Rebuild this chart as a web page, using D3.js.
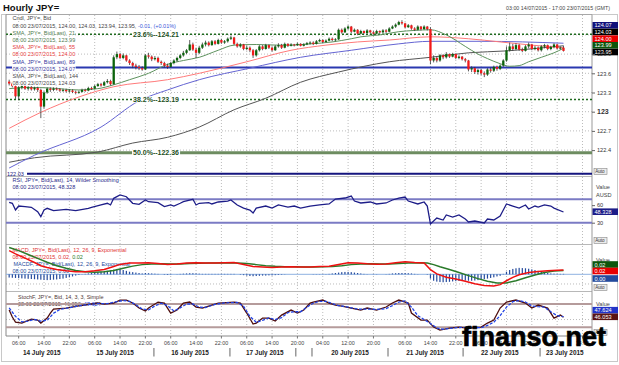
<!DOCTYPE html>
<html><head><meta charset="utf-8">
<script src="https://cdn.jsdelivr.net/npm/d3@7/dist/d3.min.js"></script>
<style>html,body{margin:0;padding:0;background:#fff;overflow:hidden}svg{display:block}text{white-space:pre}</style>
</head><body>
<svg id="chart" width="619" height="365"></svg>
<script>
// ---------------- DATA ----------------
const firstOpen = 123.47;
const closes = [123.44,123.40,123.24,123.38,123.40,123.36,123.38,123.35,123.37,123.34,
 123.08,123.30,123.36,123.34,123.36,123.35,123.33,123.34,123.32,123.33,
 123.31,123.30,123.31,123.34,123.33,123.37,123.36,123.40,123.43,123.41,
 123.46,123.48,123.43,123.85,123.90,123.84,123.88,123.80,123.76,123.72,
 123.70,123.68,123.66,123.88,123.86,123.82,123.84,123.78,123.76,123.72,
 123.70,123.76,123.80,123.84,123.88,123.92,123.96,124.05,123.97,123.92,
 124.00,124.05,124.08,124.04,124.10,124.06,124.12,124.08,124.10,124.14,
 124.16,124.06,124.02,124.05,123.98,124.00,123.96,123.88,123.96,124.02,
 123.98,124.04,124.00,123.96,124.02,124.04,124.00,124.06,124.03,124.05,
 124.04,124.06,124.03,124.05,124.07,124.08,124.06,124.10,124.12,124.09,
 124.11,124.14,124.12,124.13,124.28,124.24,124.30,124.33,124.25,124.28,
 124.22,124.26,124.23,124.27,124.24,124.22,124.26,124.24,124.27,124.25,
 124.30,124.33,124.36,124.40,124.38,124.32,124.35,124.30,124.28,124.33,
 124.29,124.33,124.29,123.80,123.84,123.80,123.88,123.85,123.90,123.86,
 123.90,123.84,123.86,123.82,123.80,123.66,123.68,123.62,123.65,123.60,
 123.58,123.66,123.64,123.70,123.67,123.72,123.80,123.96,124.02,123.98,
 124.04,123.97,123.95,124.02,124.05,123.98,124.00,123.96,124.02,124.04,
 123.98,124.01,124.05,123.99,124.00,123.95];
const highs = [123.50,123.46,123.42,123.40,123.43,123.42,123.40,123.40,123.39,123.39,
 123.36,123.32,123.38,123.38,123.38,123.38,123.37,123.36,123.36,123.35,
 123.35,123.33,123.33,123.36,123.36,123.39,123.39,123.42,123.45,123.45,
 123.48,123.51,123.50,123.88,123.94,123.92,123.91,123.89,123.82,123.78,
 123.75,123.73,123.71,123.90,123.92,123.88,123.87,123.86,123.80,123.78,
 123.75,123.78,123.82,123.86,123.90,123.95,123.98,124.12,124.08,124.00,
 124.03,124.08,124.11,124.10,124.12,124.12,124.14,124.14,124.12,124.16,
 124.19,124.17,124.08,124.07,124.06,124.03,124.02,123.98,123.98,124.04,
 124.04,124.06,124.05,124.02,124.04,124.07,124.06,124.08,124.07,124.07,
 124.06,124.08,124.07,124.07,124.09,124.10,124.10,124.12,124.14,124.13,
 124.13,124.16,124.16,124.15,124.30,124.30,124.32,124.35,124.34,124.30,
 124.29,124.28,124.27,124.29,124.28,124.26,124.28,124.27,124.29,124.29,
 124.32,124.35,124.38,124.42,124.43,124.39,124.37,124.36,124.32,124.35,
 124.34,124.35,124.34,124.32,123.88,123.86,123.90,123.90,123.93,123.91,
 123.92,123.91,123.88,123.87,123.84,123.81,123.71,123.70,123.67,123.67,
 123.63,123.68,123.69,123.72,123.72,123.74,123.82,124.02,124.08,124.06,
 124.07,124.06,124.00,124.04,124.08,124.06,124.03,124.02,124.04,124.06,
 124.05,124.03,124.07,124.06,124.02,124.03];
const lows = [123.41,123.38,123.20,123.18,123.35,123.34,123.33,123.33,123.33,123.31,
 122.90,123.05,123.28,123.31,123.32,123.33,123.31,123.31,123.30,123.30,
 123.29,123.27,123.28,123.30,123.31,123.32,123.34,123.35,123.39,123.39,
 123.40,123.44,123.41,123.42,123.82,123.82,123.82,123.78,123.73,123.68,
 123.66,123.65,123.64,123.65,123.83,123.79,123.80,123.76,123.73,123.69,
 123.67,123.69,123.74,123.78,123.82,123.86,123.90,123.95,123.95,123.84,
 123.90,123.98,124.02,124.02,124.03,124.04,124.05,124.06,124.06,124.08,
 124.12,124.04,124.00,124.00,123.96,123.96,123.93,123.84,123.86,123.94,
 123.96,123.97,123.98,123.94,123.95,124.00,123.98,123.99,124.01,124.02,
 124.02,124.03,124.02,124.02,124.04,124.05,124.04,124.05,124.09,124.07,
 124.08,124.10,124.10,124.10,124.12,124.22,124.23,124.28,124.23,124.24,
 124.20,124.21,124.21,124.22,124.22,124.20,124.21,124.22,124.23,124.23,
 124.24,124.29,124.31,124.35,124.36,124.30,124.31,124.28,124.26,124.27,
 124.27,124.28,124.27,123.74,123.77,123.77,123.78,123.82,123.83,123.84,
 123.85,123.82,123.82,123.80,123.77,123.63,123.62,123.59,123.58,123.57,
 123.54,123.56,123.61,123.62,123.64,123.65,123.70,123.78,123.94,123.95,
 123.96,123.95,123.93,123.94,123.99,123.96,123.96,123.94,123.94,123.99,
 123.96,123.96,123.99,123.97,123.97,123.94];

const sma21Slots = [0,6,13,22,28,33,38,44,50,55,60,66,71,78,85,89,95,102,108,111,117,123,128,133,138,144,148,151,155,158,161,164,168,172,175];
const sma21Vals = [123.36,123.38,123.37,123.34,123.36,123.42,123.50,123.60,123.74,123.80,123.85,123.96,124.04,124.05,124.04,124.04,124.06,124.09,124.14,124.17,124.20,124.25,124.27,124.28,124.20,124.02,123.90,123.83,123.75,123.71,123.72,123.78,123.85,123.92,123.99];
const sma55Slots = [0,10,22,33,50,60,75,89,100,110,120,133,145,155,165,175];
const sma55Vals = [122.74,122.99,123.23,123.39,123.50,123.60,123.78,123.96,124.04,124.09,124.12,124.17,124.14,124.09,124.04,124.00];
const sma89Slots = [0,8,29,41,50,60,76,92,108,123,133,149,175];
const sma89Vals = [122.12,122.32,122.76,123.17,123.34,123.50,123.68,123.85,123.96,124.06,124.10,124.10,124.07];
const sma144Slots = [0,8,28,39,50,60,71,81,92,104,120,133,145,157,175];
const sma144Vals = [122.21,122.28,122.37,122.51,122.60,122.76,123.03,123.21,123.46,123.62,123.78,123.85,123.92,123.95,124.03];

const fibLevels = [124.21, 123.19, 122.36];
const fibLabels = ["23.6%--124.21", "38.2%--123.19", "50.0%--122.36"];
const supportLevel = 123.69;
const baseLevel = 122.03;

const rsiSlots = [0,1,2,3,5,7,9,10,11,12,14,18,21,25,26,29,31,32,33,35,37,39,41,43,44,47,49,51,52,54,55,58,59,60,63,64,66,69,70,72,74,76,77,78,81,83,85,88,90,92,95,98,101,103,106,108,109,111,114,116,119,121,123,125,126,129,131,132,133,135,137,138,140,142,144,145,147,150,151,153,155,156,157,159,161,163,164,166,167,169,171,172,175];
const rsiVals = [64.9,63.2,51.7,58.5,57.4,56.3,48.8,40.3,51.7,54.6,50.5,52.9,50.5,54.6,56.3,60.3,63.2,60.3,71.7,77.4,74.4,63.2,61.5,68.8,65.9,64.2,57.4,60.3,58.5,63.2,65.9,70.0,60.3,63.2,64.2,62,65.4,67,68.8,60.3,55,51.7,46.6,55,58.5,55,60.3,56.8,58.5,55,58.5,60.3,62,70.5,72.2,75.6,67,63.7,65.4,62,63.7,68.8,72.2,73.9,67,62,65.4,58.5,27.8,38,34.6,43.2,39.7,43.2,36.3,31.2,32.9,29.5,36.3,34.6,41.5,51.7,62,58.5,55,60.3,53.4,58.5,56.8,60.3,58.5,55,48.33];
const rsiLevels = [70, 30];

const macdSlots = [0,2,5,8,10,12,15,18,21,24,27,30,33,35,38,41,44,47,50,53,56,59,62,65,68,71,74,77,80,83,86,89,92,95,98,101,104,107,110,113,116,119,122,125,128,131,133,135,138,141,144,147,150,153,155,157,159,161,164,167,170,173,175];
const macdVals = [0.110,0.095,0.075,0.055,0.040,0.032,0.022,0.016,0.012,0.012,0.016,0.022,0.036,0.046,0.052,0.052,0.054,0.050,0.046,0.048,0.052,0.054,0.052,0.053,0.054,0.055,0.046,0.036,0.034,0.032,0.034,0.035,0.034,0.034,0.036,0.037,0.046,0.054,0.053,0.049,0.047,0.048,0.054,0.058,0.055,0.053,0.022,0.002,-0.014,-0.022,-0.032,-0.044,-0.052,-0.054,-0.048,-0.030,-0.014,-0.002,0.008,0.013,0.017,0.019,0.020];
const signalSlots = [0,3,6,9,12,15,18,21,24,27,30,33,36,39,42,45,48,51,54,57,60,63,66,69,72,75,78,81,84,87,90,93,96,99,102,105,108,111,114,117,120,123,126,129,132,134,136,139,142,145,148,151,154,157,160,163,166,169,172,175];
const signalVals = [0.125,0.110,0.092,0.074,0.056,0.040,0.028,0.018,0.012,0.010,0.012,0.018,0.028,0.038,0.045,0.048,0.049,0.048,0.048,0.050,0.051,0.052,0.052,0.053,0.053,0.050,0.045,0.040,0.037,0.035,0.035,0.034,0.034,0.035,0.036,0.040,0.045,0.048,0.049,0.048,0.048,0.050,0.053,0.054,0.053,0.045,0.035,0.022,0.008,-0.006,-0.020,-0.032,-0.040,-0.040,-0.030,-0.016,-0.003,0.008,0.015,0.018];
const histVals = [-0.015,-0.016,-0.017,-0.018,-0.019,-0.020,-0.021,-0.022,-0.023,-0.024,
 -0.025,-0.026,-0.027,-0.026,-0.025,-0.024,-0.022,-0.020,-0.017,-0.014,
 -0.010,-0.006,-0.003,-0.001,0.002,0.004,0.006,0.008,0.010,0.012,
 0.014,0.016,0.018,0.022,0.025,0.024,0.020,0.016,0.012,0.010,
 0.008,0.006,0.004,0.006,0.005,0.004,0.003,0.002,0.000,-0.002,
 -0.003,-0.002,0.000,0.001,0.002,0.003,0.004,0.005,0.005,0.004,
 0.003,0.002,0.002,0.002,0.002,0.002,0.002,0.002,0.002,0.002,
 0.002,0.002,0.000,-0.002,-0.004,-0.006,-0.008,-0.009,-0.008,-0.007,
 -0.006,-0.006,-0.005,-0.005,-0.004,-0.003,-0.002,-0.001,0.000,0.000,
 0.000,0.000,0.000,0.000,0.000,0.000,0.001,0.001,0.001,0.001,
 0.001,0.002,0.004,0.006,0.008,0.010,0.011,0.011,0.010,0.008,
 0.006,0.004,0.002,0.001,0.000,-0.001,-0.001,0.000,0.000,0.001,
 0.002,0.004,0.005,0.006,0.006,0.006,0.005,0.004,0.002,0.001,
 0.000,0.000,-0.002,-0.020,-0.030,-0.034,-0.036,-0.037,-0.036,-0.035,
 -0.033,-0.032,-0.031,-0.030,-0.029,-0.030,-0.030,-0.029,-0.027,-0.024,
 -0.022,-0.020,-0.017,-0.014,-0.010,-0.007,0.002,0.012,0.020,0.025,
 0.028,0.030,0.029,0.028,0.026,0.023,0.020,0.016,0.012,0.009,
 0.006,0.004,0.003,0.002,0.002,0.002];

const kSlots = [0,1,2,4,7,9,10,12,13,14,18,22,26,28,30,33,35,37,39,41,43,44,47,49,50,51,53,55,57,59,61,64,66,71,73,75,77,78,80,82,84,86,89,91,93,95,96,99,101,103,105,108,111,113,116,119,121,123,126,127,130,132,134,136,139,142,145,149,151,153,155,157,160,163,165,167,170,172,174,175];
const kVals = [64.4,46.4,33.5,30.9,41.2,38.7,30.9,43.8,56.7,67,69.6,75,80,82.5,79.9,82.5,90.2,90.2,82.5,69.6,61.9,69.6,85,82.5,69.6,56.7,64.4,82.5,85,72.2,69.6,77.3,82.5,85,82.5,56.7,28.4,30.9,43.8,43.8,36.1,51.5,64.4,56.7,64.4,82.5,85,90.2,82.5,77.3,74.7,69.6,64.4,69.6,64.4,72.2,82.5,90.2,82.5,56.7,38.7,38.7,20.6,12.9,18,20.6,18,20.6,30.9,38.7,69.6,85,90.2,82.5,69.6,77.3,69.6,43.8,51.5,46.05];
const dSlots = [0,2,4,6,8,10,12,14,16,20,24,28,31,34,36,38,40,42,44,46,48,50,52,54,56,58,60,62,65,68,72,74,76,78,80,82,84,86,88,90,92,94,96,98,100,102,104,107,110,113,116,119,121,123,125,127,129,131,133,135,137,140,143,146,149,151,153,155,157,159,161,163,165,167,169,171,173,175];
const dVals = [70,48,34,36,40,36,38,56,66,72,78,81,81,86,89,87,78,67,65,75,82,76,62,70,80,80,72,71,79,83,84,74,48,33,38,44,40,45,58,60,60,72,82,87,87,81,76,72,67,67,66,68,76,85,88,72,50,40,30,18,15,18,20,19,19,25,33,50,72,86,89,85,75,73,72,60,50,47.62];
const stochLevels = [80, 20];

const priceTicks = [122.4,122.7,123,123.3,123.6,123.9];
const gridPrices = [122.4,122.7,123,123.3,123.6,123.9,124.2];
const timeTickSlots = [3,11,19,27,35,43,51,59,67,75,83,91,99,107,115,125,133,141,149,157,165,173,181];
const timeTickLabels = ["06:00","14:00","22:00","06:00","14:00","22:00","06:00","14:00","22:00","06:00","14:00","20:00","04:00","12:00","20:00","06:00","14:00","22:00","06:00","14:00","22:00","06:00","14:00"];
const dateLabels = ["14 July 2015","15 July 2015","16 July 2015","17 July 2015","20 July 2015","21 July 2015","22 July 2015","23 July 2015"];
const dateCenters = [10.3,33.4,57.1,80.7,107.6,131.3,154.9,175.4];
const daySeparators = [45.7,69.7,90.5,95.6,119.6,143.3,167.6];

// ---------------- DRAW ----------------
const svg = d3.select('#chart').attr('font-family','Arial, "Liberation Sans", Helvetica, sans-serif');
const plotL = 6, plotR = 592;
const x = d3.scaleLinear().domain([-1,184]).range([plotL,plotR]);
const yP = d3.scaleLinear().domain([122.4,123.6]).range([150.1,73.3]);
const yR = d3.scaleLinear().domain([30,70]).range([222.7,199.3]);
const yM = d3.scaleLinear().domain([0,0.02]).range([274.3,270]);
const yS = d3.scaleLinear().domain([20,80]).range([327.3,304]);
const panels = [[15,176.5],[176.5,244.5],[244.5,291.5],[291.5,336]];

const defs = svg.append('defs');
panels.forEach((p,i)=>defs.append('clipPath').attr('id','clip'+i).append('rect')
  .attr('x',plotL).attr('y',p[0]).attr('width',plotR-plotL).attr('height',p[1]-p[0]));

// frame
svg.append('rect').attr('x',1.5).attr('y',14.5).attr('width',616).attr('height',347).attr('fill','none').attr('stroke','#c8c8c8');
svg.append('text').attr('x',3).attr('y',11).attr('font-size',9.5).attr('font-weight','bold').attr('fill','#111').text('Hourly JPY=');
svg.append('text').attr('x',610).attr('y',10).attr('text-anchor','end').attr('font-size',5.3).attr('fill','#444')
  .text('03:00 14/07/2015 - 17:00 23/07/2015 (GMT)');

// grids
const grid = svg.append('g').attr('stroke','#bcbcbc').attr('stroke-dasharray','1,2').attr('stroke-width',1);
grid.selectAll('line.v').data(timeTickSlots).join('line').attr('class','v')
  .attr('x1',d=>x(d)).attr('x2',d=>x(d)).attr('y1',15).attr('y2',336);
grid.selectAll('line.h').data(gridPrices).join('line').attr('class','h')
  .attr('x1',plotL).attr('x2',plotR).attr('y1',d=>yP(d)).attr('y2',d=>yP(d));
grid.append('line').attr('x1',plotL).attr('x2',plotR).attr('y1',yM(-0.045)).attr('y2',yM(-0.045));
grid.append('line').attr('x1',plotL).attr('x2',plotR).attr('y1',yS(40)).attr('y2',yS(40));

// panel separators
[176.5,244.5,291.5].forEach(y=>svg.append('line').attr('x1',plotL).attr('x2',plotR).attr('y1',y).attr('y2',y).attr('stroke','#b8b8b8'));
svg.append('line').attr('x1',plotL).attr('x2',plotR).attr('y1',14.5).attr('y2',14.5).attr('stroke','#a8a8a8');
svg.append('line').attr('x1',plotL).attr('x2',plotL).attr('y1',14.5).attr('y2',336).attr('stroke','#888');
svg.append('line').attr('x1',plotR).attr('x2',plotR).attr('y1',14.5).attr('y2',336).attr('stroke','#999');
svg.append('line').attr('x1',plotL).attr('x2',plotR).attr('y1',336).attr('y2',336).attr('stroke','#888');

// ---- main panel
const main = svg.append('g').attr('clip-path','url(#clip0)');
// fib lines
main.append('line').attr('x1',plotL).attr('x2',plotR).attr('y1',yP(fibLevels[0])).attr('y2',yP(fibLevels[0]))
  .attr('stroke','#1f6a1f').attr('stroke-width',1.6).attr('stroke-dasharray','2,2');
main.append('line').attr('x1',plotL).attr('x2',plotR).attr('y1',yP(fibLevels[1])).attr('y2',yP(fibLevels[1]))
  .attr('stroke','#1f6a1f').attr('stroke-width',1.6).attr('stroke-dasharray','2,2');
main.append('line').attr('x1',plotL).attr('x2',plotR).attr('y1',yP(fibLevels[2])).attr('y2',yP(fibLevels[2]))
  .attr('stroke','#6d8c60').attr('stroke-width',3);
main.append('line').attr('x1',plotL).attr('x2',plotR).attr('y1',yP(supportLevel)).attr('y2',yP(supportLevel))
  .attr('stroke','#2a38b0').attr('stroke-width',2);
main.append('line').attr('x1',27).attr('x2',plotR).attr('y1',yP(baseLevel)).attr('y2',yP(baseLevel))
  .attr('stroke','#14147e').attr('stroke-width',2);

const lineP = d3.line().x(d=>x(d[0])).y(d=>yP(d[1])).curve(d3.curveMonotoneX);
const smaDefs = [[sma144Slots,sma144Vals,'#555555'],[sma89Slots,sma89Vals,'#6464d2'],[sma55Slots,sma55Vals,'#ff7a7a'],[sma21Slots,sma21Vals,'#5e925e']];
smaDefs.forEach(([s,v,c])=>main.append('path').attr('d',lineP(s.map((d,i)=>[d,v[i]]))).attr('fill','none').attr('stroke',c).attr('stroke-width',1));

const candles = closes.map((c,i)=>({i, o: i ? closes[i-1] : firstOpen, c, h: highs[i], l: lows[i]}));
main.append('g').selectAll('line').data(candles).join('line')
  .attr('x1',d=>x(d.i)).attr('x2',d=>x(d.i))
  .attr('y1',d=>yP(Math.max(d.h,d.o,d.c))).attr('y2',d=>yP(Math.min(d.l,d.o,d.c)))
  .attr('stroke','#333').attr('stroke-width',0.8);
main.append('g').selectAll('rect').data(candles).join('rect')
  .attr('x',d=>x(d.i)-1.15).attr('width',2.3)
  .attr('y',d=>yP(Math.max(d.o,d.c))).attr('height',d=>Math.max(0.9,Math.abs(yP(d.o)-yP(d.c))))
  .attr('fill',d=>d.c>=d.o?'#0b640b':'#f21a1a');

function labelBg(g, t, pad){
  const bb = t.node().getBBox();
  g.insert('rect',()=>t.node()).attr('x',bb.x-pad).attr('y',bb.y+0.4).attr('width',bb.width+2*pad).attr('height',bb.height-0.8).attr('fill','#fff');
}
const fibG = svg.append('g');
fibLevels.forEach((lv,i)=>{
  const t = fibG.append('text').attr('x',156).attr('y',yP(lv)+2.5).attr('text-anchor','middle')
    .attr('font-size',7).attr('font-weight','bold').attr('fill','#1d4f1d').text(fibLabels[i]);
  labelBg(fibG,t,1);
});

function legend(g, x0, y0, parts){
  const t = g.append('text').attr('x',x0).attr('y',y0).attr('font-size',5.5);
  parts.forEach(([s,c])=>t.append('tspan').attr('fill',c).text(s));
  labelBg(g,t,0.5);
}
const lg = svg.append('g');
const mainLegend = [
  [['Cndl, JPY=, Bid','#444']],
  [['08:00 23/07/2015, 124.00, 124.03, 123.94, 123.95, ','#444'],['-0.01, (+0.01%)','#3a55d8']],
  [['SMA, JPY=, Bid(Last), 21','#4e7a4e']],
  [['08:00 23/07/2015, 123.99','#4e7a4e']],
  [['SMA, JPY=, Bid(Last), 55','#e43c3c']],
  [['08:00 23/07/2015, 124.00','#e43c3c']],
  [['SMA, JPY=, Bid(Last), 89','#34349a']],
  [['08:00 23/07/2015, 124.07','#34349a']],
  [['SMA, JPY=, Bid(Last), 144','#4a4a4a']],
  [['08:00 23/07/2015, 124.03','#4a4a4a']]
];
mainLegend.forEach((p,i)=>legend(lg,12.5,20.3+i*7.2,p));
svg.append('text').attr('x',7).attr('y',176).attr('font-size',5.5).attr('fill','#14147e').text('122.03');

// ---- RSI
const rsiG = svg.append('g').attr('clip-path','url(#clip1)');
rsiLevels.forEach(l=>rsiG.append('line').attr('x1',plotL).attr('x2',plotR).attr('y1',yR(l)).attr('y2',yR(l)).attr('stroke','#7b7bc4').attr('stroke-width',2));
rsiG.append('path').attr('d',d3.line().x(d=>x(d[0])).y(d=>yR(d[1]))(rsiSlots.map((s,i)=>[s,rsiVals[i]])))
  .attr('fill','none').attr('stroke','#1d1d88').attr('stroke-width',1.3);
legend(lg,12.5,182.3,[['RSI, JPY=, Bid(Last), 14, Wilder Smoothing','#2b2b8a']]);
legend(lg,12.5,189.3,[['08:00 23/07/2015, 48.328','#2b2b8a']]);

// ---- MACD
const mG = svg.append('g').attr('clip-path','url(#clip2)');
mG.append('line').attr('x1',plotL).attr('x2',plotR).attr('y1',yM(0)).attr('y2',yM(0)).attr('stroke','#8fb2e2').attr('stroke-width',1);
mG.append('g').selectAll('rect').data(histVals).join('rect')
  .attr('x',(d,i)=>x(i)-0.6).attr('width',1.2)
  .attr('y',d=>Math.min(yM(0),yM(d))).attr('height',d=>Math.abs(yM(d)-yM(0)))
  .attr('fill','#244a9c');
const lineM = d3.line().x(d=>x(d[0])).y(d=>yM(d[1]));
mG.append('path').attr('d',lineM(signalSlots.map((s,i)=>[s,signalVals[i]]))).attr('fill','none').attr('stroke','#2a7a2a').attr('stroke-width',1.5);
mG.append('path').attr('d',lineM(macdSlots.map((s,i)=>[s,macdVals[i]]))).attr('fill','none').attr('stroke','#ee1111').attr('stroke-width',1.5);
legend(lg,12.5,252,[['MACD, JPY=, Bid(Last), 12, 26, 9, Exponential','#e03030']]);
legend(lg,12.5,259,[['08:00 23/07/2015, 0.02, ','#e03030'],['0.02','#2a7a2a']]);
legend(lg,13.5,266,[['MACDF, JPY=, Bid(Last), 12, 26, 9, Exponential','#244a9c']]);
legend(lg,12.5,273,[['08:00 23/07/2015, 0.00','#244a9c']]);

// ---- Stoch
const sG = svg.append('g').attr('clip-path','url(#clip3)');
stochLevels.forEach(l=>sG.append('line').attr('x1',plotL).attr('x2',plotR).attr('y1',yS(l)).attr('y2',yS(l)).attr('stroke','#b59b9b').attr('stroke-width',2));
const lineS = d3.line().x(d=>x(d[0])).y(d=>yS(d[1]));
sG.append('path').attr('d',lineS(kSlots.map((s,i)=>[s,kVals[i]]))).attr('fill','none').attr('stroke','#4e0d0d').attr('stroke-width',1.3);
sG.append('path').attr('d',lineS(dSlots.map((s,i)=>[s,dVals[i]]))).attr('fill','none').attr('stroke','#2244e6').attr('stroke-width',1.3).attr('stroke-dasharray','3,1.5');
legend(lg,18,298.6,[['StochF, JPY=, Bid, 14, 3, 3, Simple','#503838']]);
legend(lg,18,305.6,[['08:00 23/07/2015, 46.053, ','#503838'],['47.624','#2244e6']]);

// ---- right axis
const ax = svg.append('g').attr('font-size',5.6).attr('fill','#333');
const yAxis = d3.axisRight(yP).tickValues(priceTicks).tickSize(3).tickFormat(d=>d3.format('')(d));
const yAxG = svg.append('g').attr('transform',`translate(${plotR},0)`).call(yAxis);
yAxG.select('.domain').remove();
yAxG.selectAll('text').attr('font-size',d=>d===123?7:5.6).attr('font-weight',d=>d===123?'bold':'normal').attr('fill','#333').attr('x',5).attr('font-family','Arial, "Liberation Sans", sans-serif');
yAxG.selectAll('line').attr('stroke','#666');

function vbox(cy, txt, fill){
  ax.append('rect').attr('x',plotR+0.5).attr('y',cy-3.3).attr('width',25.5).attr('height',6.6).attr('fill',fill);
  ax.append('text').attr('x',plotR+2.5).attr('y',cy+2).attr('fill','#fff').attr('font-size',5.6).text(txt);
}
vbox(25.3,'124.07','#10107a');
vbox(32,'124.03','#000');
vbox(38.7,'124.00','#e80000');
vbox(45.3,'123.99','#0c560c');
vbox(52,'123.95','#000');

function autoBtn(cy){
  ax.append('rect').attr('x',plotR+2).attr('y',cy-3).attr('width',13).attr('height',6).attr('fill','#ececec').attr('stroke','#888').attr('stroke-width',0.6);
  ax.append('text').attr('x',plotR+3.2).attr('y',cy+1.8).attr('font-size',4.6).attr('fill','#333').text('Auto');
}
autoBtn(171.5); autoBtn(240.5); autoBtn(287.5); autoBtn(332.5);

function axText(cy, t){ ax.append('text').attr('x',plotR+4).attr('y',cy+2).attr('font-size',5.6).attr('fill','#444').text(t); }
axText(186.7,'Value'); axText(195,'AUSD');
const rsiAx = svg.append('g').attr('transform',`translate(${plotR},0)`).call(d3.axisRight(yR).tickValues([60,30]).tickSize(3));
rsiAx.select('.domain').remove();
rsiAx.selectAll('text').attr('font-size',5.6).attr('fill','#333').attr('x',5);
rsiAx.selectAll('line').attr('stroke','#666');
vbox(211.7,'48.328','#1d1d88');

axText(259.5,'Value');
vbox(264.5,'0.02','#0c560c');
vbox(271,'0.02','#e80000');
vbox(278.5,'0.00','#244a9c');

axText(304,'Value');
vbox(310.2,'47.624','#2234c8');
vbox(316.8,'46.053','#5a1414');

// ---- bottom axis
const bx = svg.append('g');
bx.selectAll('line.tk').data(timeTickSlots).join('line').attr('class','tk')
  .attr('x1',d=>x(d)).attr('x2',d=>x(d)).attr('y1',336).attr('y2',338.5).attr('stroke','#777');
bx.selectAll('text.tl').data(timeTickSlots).join('text').attr('class','tl')
  .attr('x',d=>x(d)).attr('y',344.5).attr('text-anchor','middle').attr('font-size',5.4).attr('fill','#444')
  .text((d,i)=>timeTickLabels[i]);
bx.selectAll('text.dl').data(dateCenters).join('text').attr('class','dl')
  .attr('x',d=>x(d)).attr('y',355).attr('text-anchor','middle').attr('font-size',6.4).attr('font-weight','bold').attr('fill','#222')
  .text((d,i)=>dateLabels[i]);
bx.selectAll('line.sep').data(daySeparators).join('line').attr('class','sep')
  .attr('x1',d=>x(d)).attr('x2',d=>x(d)).attr('y1',348).attr('y2',356.5).attr('stroke','#666').attr('stroke-width',1);

// watermark
svg.append('text').attr('x',462).attr('y',346).attr('font-size',27).attr('font-weight','bold')
  .attr('font-family','"Liberation Sans", Arial, sans-serif').attr('fill','#000').attr('stroke','#000').attr('stroke-width',0.7)
  .text('finanso.net');
</script>
</body></html>
